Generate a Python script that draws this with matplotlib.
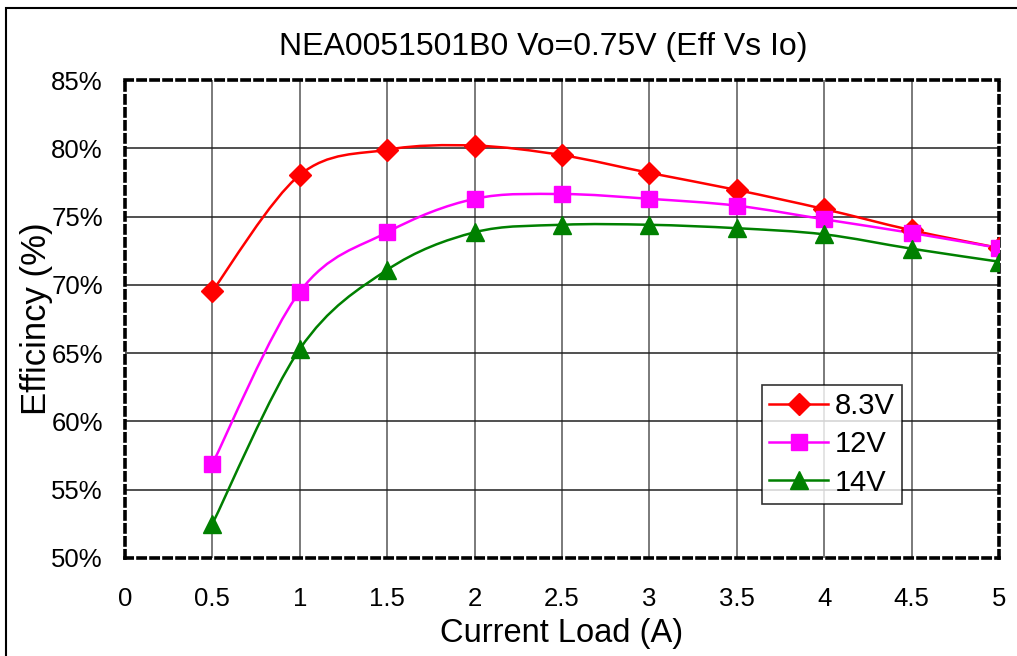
import numpy as np
import matplotlib.pyplot as plt
from matplotlib.path import Path
from matplotlib.patches import PathPatch, Rectangle
from matplotlib.lines import Line2D

plt.rcParams['font.family'] = ['Liberation Sans', 'DejaVu Sans']

load = [0.5, 1, 1.5, 2, 2.5, 3, 3.5, 4, 4.5, 5]
eff_83 = [69.55, 78.05, 79.9, 80.2, 79.5, 78.2, 76.95, 75.55, 74.0, 72.7]
eff_12 = [56.9, 69.5, 73.85, 76.3, 76.65, 76.3, 75.8, 74.8, 73.8, 72.7]
eff_14 = [52.5, 65.3, 71.1, 73.85, 74.4, 74.4, 74.15, 73.7, 72.65, 71.7]
labels = ['8.3V', '12V', '14V']
colors = ['#ff0000', '#ff00ff', '#008000']
markers = ['D', 's', '^']
msizes = [11, 12, 13]


def smooth_path(x, y):
    # Excel-like smoothed line: catmull-rom turned into cubic bezier segments
    p = np.column_stack([x, y])
    n = len(p)
    verts = [p[0]]
    codes = [Path.MOVETO]
    for i in range(n - 1):
        p0 = p[i - 1] if i > 0 else p[i]
        p3 = p[i + 2] if i + 2 < n else p[i + 1]
        c1 = p[i] + (p[i + 1] - p0) / 6
        c2 = p[i + 1] - (p3 - p[i]) / 6
        verts += [c1, c2, p[i + 1]]
        codes += [Path.CURVE4] * 3
    return Path(verts, codes)


fig = plt.figure(figsize=(10.17, 6.56), dpi=100)
ax = fig.add_axes([0.1229, 0.1494, 0.8594, 0.7286])

# outer frame of the chart
fig.patches.append(Rectangle((6 / 1017, -0.1), 1.1, 1 - 8 / 656 + 0.1, transform=fig.transFigure,
                             fill=False, edgecolor='black', lw=1.5, clip_on=False))

handles = []
for ys, lab, c, m, ms in zip([eff_83, eff_12, eff_14], labels, colors, markers, msizes):
    ax.add_patch(PathPatch(smooth_path(load, ys), fill=False, edgecolor=c, lw=1.8, zorder=3))
    ax.plot(load, ys, ls='none', marker=m, color=c, markersize=ms, zorder=4)
    handles.append(Line2D([], [], color=c, lw=1.8, marker=m, markersize=ms, label=lab))

ax.set_xlim(0, 5)
ax.set_ylim(50, 85)
ax.set_xticks(np.arange(0, 5.01, 0.5))
ax.set_xticklabels(['0', '0.5', '1', '1.5', '2', '2.5', '3', '3.5', '4', '4.5', '5'])
ax.set_yticks(np.arange(50, 86, 5))
ax.set_yticklabels([f'{v}%' for v in range(50, 86, 5)])
ax.tick_params(length=0, labelsize=18.5)
ax.tick_params(axis='x', pad=21)
ax.tick_params(axis='y', pad=16)

for xv in np.arange(0.5, 5, 0.5):
    ax.axvline(xv, color='#707070', lw=1.3, zorder=1)
for yv in range(55, 85, 5):
    ax.axhline(yv, color='#202020', lw=1.1, zorder=1)

for s in ax.spines.values():
    s.set_linestyle((0, (2, 1.6)))
    s.set_linewidth(2.6)
    s.set_color('black')

ax.set_title('NEA0051501B0 Vo=0.75V (Eff Vs Io)', fontsize=23, pad=18, x=0.478)
ax.set_xlabel('Current Load (A)', fontsize=23.5, labelpad=5)
ax.set_ylabel('Efficincy (%)', fontsize=25, labelpad=-1)

leg = ax.legend(handles=handles, loc='upper left', bbox_to_anchor=(0.729, 0.362), fontsize=21,
                frameon=True, fancybox=False, edgecolor='black', handlelength=2.0,
                borderpad=0.25, labelspacing=0.35, handletextpad=0.25, borderaxespad=0)
leg.get_frame().set_linewidth(1.2)

fig.savefig('out.png', dpi=100)
